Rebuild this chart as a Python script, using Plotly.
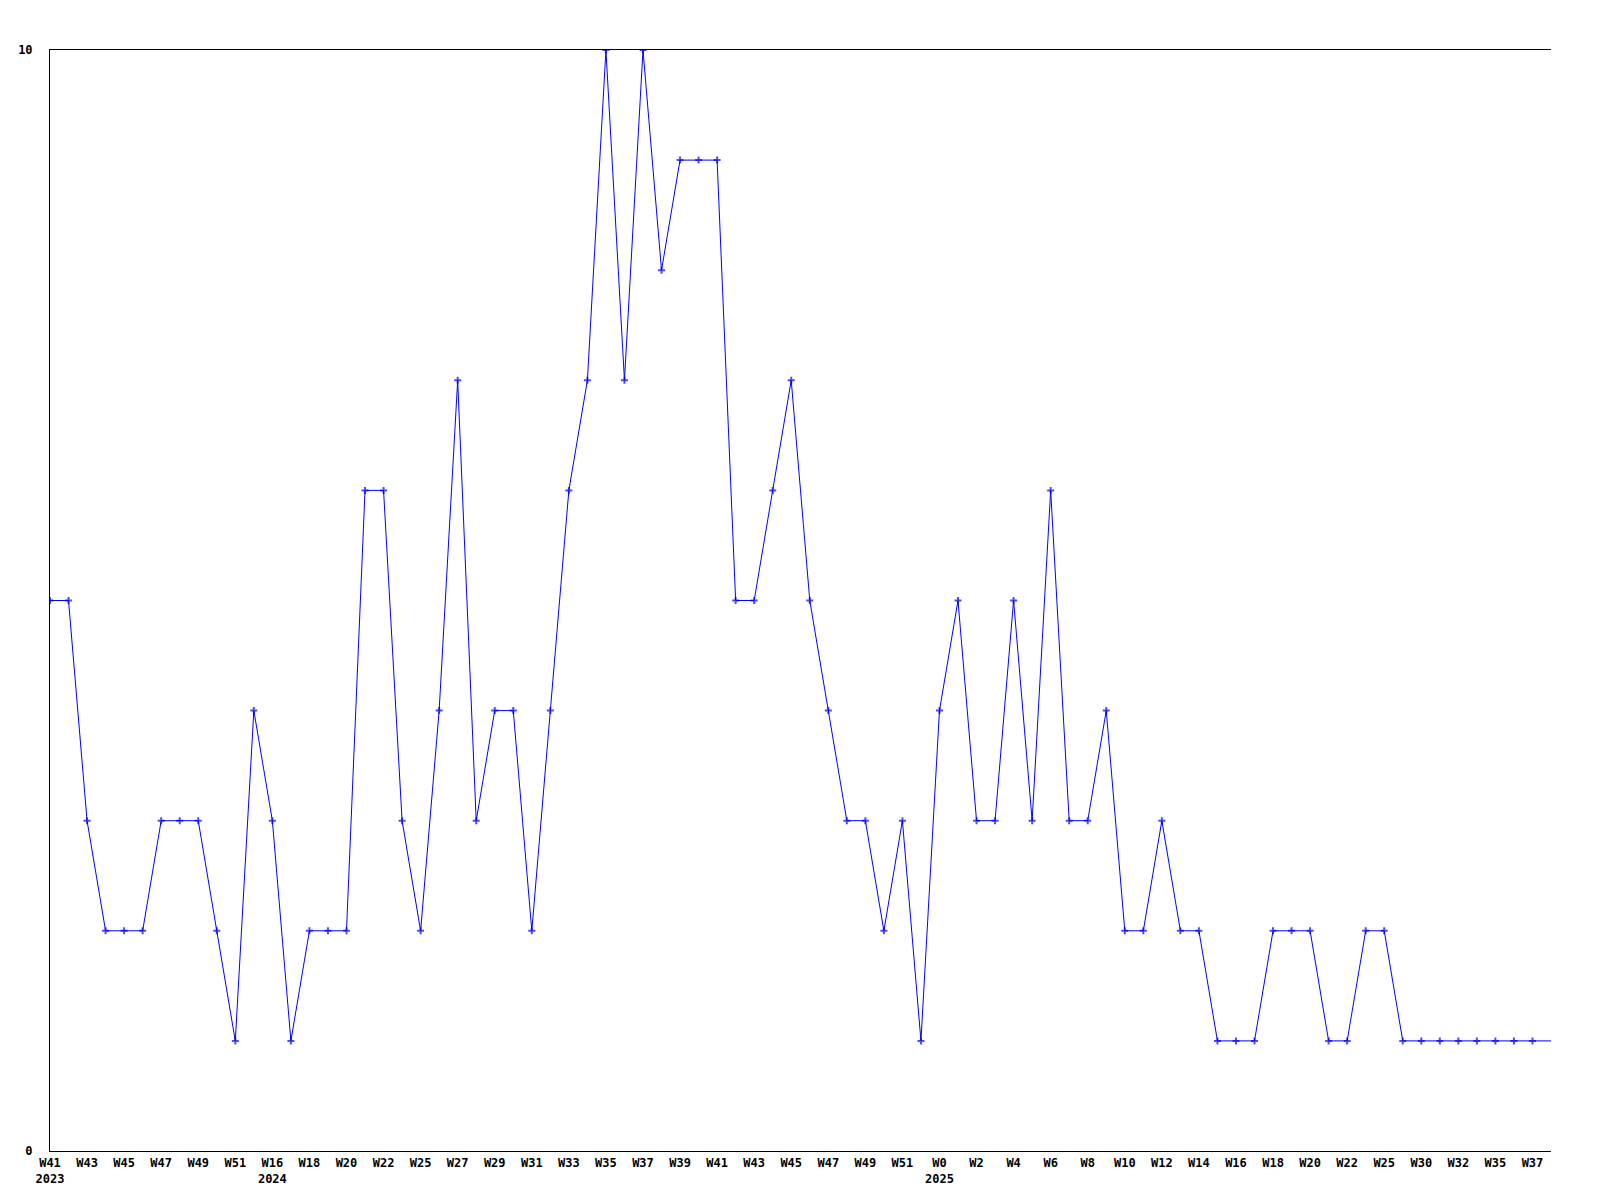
import plotly.graph_objects as go

values = [5, 5, 3, 2, 2, 2, 3, 3, 3, 2,
          1, 4, 3, 1, 2, 2, 2, 6, 6, 3,
          2, 4, 7, 3, 4, 4, 2, 4, 6, 7,
          10, 7, 10, 8, 9, 9, 9, 5, 5, 6,
          7, 5, 4, 3, 3, 2, 3, 1, 4, 5,
          3, 3, 5, 3, 6, 3, 3, 4, 2, 2,
          3, 2, 2, 1, 1, 1, 2, 2, 2, 1,
          1, 2, 2, 1, 1, 1, 1, 1, 1, 1,
          1, 1]

tick_labels = ["W41<br>2023", "W43", "W45", "W47", "W49", "W51", "W16<br>2024", "W18", "W20", "W22",
               "W25", "W27", "W29", "W31", "W33", "W35", "W37", "W39", "W41", "W43",
               "W45", "W47", "W49", "W51", "W0<br>2025", "W2", "W4", "W6", "W8", "W10",
               "W12", "W14", "W16", "W18", "W20", "W22", "W25", "W30", "W32", "W35",
               "W37"]

y_ticks = [0, 10]

x = list(range(len(values)))
marker_sizes = [5] * (len(values) - 1) + [0]
tick_vals = [2 * i for i in range(len(tick_labels))]

fig = go.Figure()
fig.add_trace(go.Scatter(
    x=x, y=values, mode="lines+markers",
    line=dict(color="#0000FF", width=1),
    marker=dict(symbol="cross-thin", size=marker_sizes, color="#0000FF",
                line=dict(color="#0000FF", width=2)),
    cliponaxis=True, showlegend=False, hoverinfo="skip",
))

font = dict(family="DejaVu Sans Mono", size=12, color="black", weight="bold")

fig.update_layout(
    width=1600, height=1200,
    margin=dict(l=42, r=57, t=42, b=57, autoexpand=False),
    paper_bgcolor="white", plot_bgcolor="white",
    font=font,
    xaxis=dict(
        range=[0, len(values) - 1], tickmode="array", tickvals=tick_vals, ticktext=tick_labels,
        showgrid=False, zeroline=False, showline=True, linecolor="black", linewidth=1,
        mirror=True, ticks="", tickfont=font, ticklabelstandoff=1, tickangle=0,
        automargin=False,
    ),
    yaxis=dict(
        range=[0, 10], tickmode="array", tickvals=y_ticks, ticktext=[str(v) for v in y_ticks],
        showgrid=False, zeroline=False,
        showline=True, linecolor="black", linewidth=1, ticks="", tickfont=font,
        ticklabelstandoff=14, automargin=False,
    ),
)

fig.write_html("out.html")
